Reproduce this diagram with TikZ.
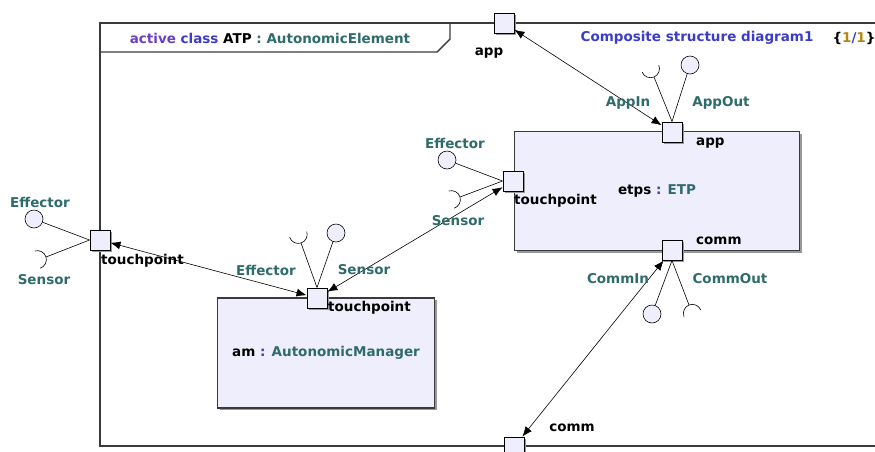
\documentclass[tikz,border=0pt]{standalone}
\usepackage{fontspec}
\setmainfont{DejaVu Sans}
\usetikzlibrary{arrows.meta,shadows}
\definecolor{csdLine}{HTML}{3A3A3A}
\definecolor{csdFill}{HTML}{EEEEFC}
\definecolor{csdTeal}{HTML}{2F6B6B}
\definecolor{csdBlue}{HTML}{3C3CC8}
\definecolor{csdPurple}{HTML}{6A3FC4}
\definecolor{csdGold}{HTML}{B8860B}
\tikzset{
  csd frame/.style={draw=csdLine, line width=1.4pt},
  csd shadow/.style={drop shadow={shadow xshift=2pt, shadow yshift=-2pt, fill=black!40, opacity=1}},
  csd part/.style={rectangle, draw=csdLine, fill=csdFill, line width=1.2pt, csd shadow},
  csd port/.style={rectangle, draw=black, fill=csdFill, line width=0.9pt, minimum size=20pt, inner sep=0pt, csd shadow},
  csd ball/.style={circle, draw=black, fill=csdFill, line width=0.6pt, minimum size=18pt, inner sep=0pt},
  csd wire/.style={draw=black, line width=0.6pt},
  csd link/.style={draw=black, line width=0.6pt, {Latex[length=10pt,width=8pt]}-{Latex[length=10pt,width=8pt]}},
  csd label/.style={text=csdTeal, inner sep=0pt},
  csd port label/.style={text=black, inner sep=0pt},
}

\begin{document}
\begin{tikzpicture}[x=1pt,y=-1pt,font=\fontsize{13.5}{16}\selectfont\bfseries]
  \useasboundingbox (0,0) rectangle (875,451);
  % frame and title tab
  \draw[csd frame] (875,23) -- (100,23) -- (100,446) -- (875,446);
  \draw[csd frame] (100,52) -- (437,52) -- (450,39) -- (450,23);
  \node (title) at (270,38) {\textcolor{csdPurple}{active} \textcolor{csdBlue}{class} ATP \textcolor{csdTeal}{: AutonomicElement}};
  \node[text=csdBlue] (dname) at (697,38) {Composite structure diagram1};
  \node (dpage) at (854,38) {\{\textcolor{csdGold}{1}\textcolor{csdBlue}{/}\textcolor{csdGold}{1}\}};

  % parts
  \node[csd part, minimum width=285pt, minimum height=119pt] (etps) at (657,191) {etps \textcolor{csdBlue}{:} \textcolor{csdTeal}{ETP}};
  \node[csd part, minimum width=217pt, minimum height=110pt] (am) at (326,353) {am \textcolor{csdBlue}{:} \textcolor{csdTeal}{AutonomicManager}};

  % ports
  \node[csd port] (fapp) at (504,23) {};
  \node[csd port] (fcomm) at (514,447) {};
  \node[csd port] (ltp) at (100,240) {};
  \node[csd port] (amtp) at (317,298) {};
  \node[csd port] (etp) at (513,181) {};
  \node[csd port] (eapp) at (672,132) {};
  \node[csd port] (ecomm) at (672,250) {};

  % provided and required interfaces
  \node[csd ball] (leff) at (34,219) {};
  \node[csd ball] (eeff) at (447,160) {};
  \node[csd ball] (amsen) at (336,233) {};
  \node[csd ball] (appout) at (690,65) {};
  \node[csd ball] (commin) at (652,314) {};
  \coordinate (lsen) at (46,257);
  \coordinate (esen) at (460,197);
  \coordinate (ameff) at (301,243);
  \coordinate (appin) at (654,77);
  \coordinate (commout) at (689,305);
  \draw[csd wire] (ltp.west) -- (leff) (ltp.west) -- (lsen);
  \draw[csd wire] (etp.west) -- (eeff) (etp.west) -- (esen);
  \draw[csd wire] (amtp.north) -- (amsen) (amtp.north) -- (ameff);
  \draw[csd wire] (eapp.north) -- (appout) (eapp.north) -- (appin);
  \draw[csd wire] (ecomm.south) -- (commin) (ecomm.south) -- (commout);
  \foreach \s/\a in {lsen/17,esen/17,ameff/-72,appin/-67,commout/112}
    \draw[csd wire] ([shift={(\a+180:9pt)}]\s) ++(\a-90:9pt) arc[start angle=\a-90, end angle=\a+90, radius=9pt];

  % connectors
  \draw[csd link] (fapp) -- (eapp);
  \draw[csd link] (ltp) -- (amtp);
  \draw[csd link] (etp) -- (amtp);
  \draw[csd link] (ecomm) -- (fcomm);

  % labels
  \node[csd port label] (fapplab) at (489,53) {app};
  \node[csd port label] (fcommlab) at (572,428) {comm};
  \node[csd port label, anchor=west] (ltplab) at (101,261) {touchpoint};
  \node[csd port label, anchor=west] (amtplab) at (328,308) {touchpoint};
  \node[csd port label, anchor=west] (etplab) at (514,201) {touchpoint};
  \node[csd port label, anchor=west] (eapplab) at (696,143) {app};
  \node[csd port label, anchor=west] (ecommlab) at (696,241) {comm};
  \node[csd label] (lefflab) at (40,202) {Effector};
  \node[csd label] (lsenlab) at (44,280) {Sensor};
  \node[csd label] (eefflab) at (455,143) {Effector};
  \node[csd label] (esenlab) at (458,221) {Sensor};
  \node[csd label] (amefflab) at (266,270) {Effector};
  \node[csd label] (amsenlab) at (364,270) {Sensor};
  \node[csd label] (appinlab) at (628,103) {AppIn};
  \node[csd label] (appoutlab) at (721,103) {AppOut};
  \node[csd label] (comminlab) at (618,279) {CommIn};
  \node[csd label] (commoutlab) at (730,279) {CommOut};
\end{tikzpicture}
\end{document}
